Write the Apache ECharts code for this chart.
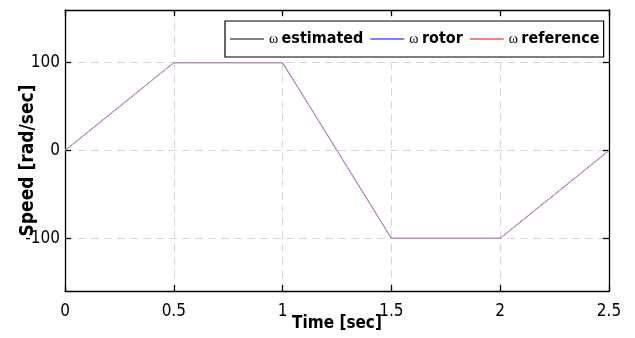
<!DOCTYPE html>
<html>
<head>
<meta charset="utf-8">
<script src="https://cdn.jsdelivr.net/npm/echarts@6/dist/echarts.min.js"></script>
<style>
  html, body { margin: 0; padding: 0; background: #fff; }
  #chart { width: 635px; height: 338px; }
</style>
</head>
<body>
<div id="chart"></div>
<script>
// Speed profile of the drive: time (s) vs. angular speed (rad/s)
const time = [0, 0.5, 1, 1.5, 2, 2.5];
const omegaEstimated = [0, 100, 100, -100, -100, 0];
const omegaRotor = [0, 100, 100, -100, -100, 0];
const omegaReference = [0, 100, 100, -100, -100, 0];

const yTicks = [-100, 0, 100];
const seriesNames = ['\u03c9 estimated', '\u03c9 rotor', '\u03c9 reference'];
const legendColors = ['#000000', '#0000ff', '#ff0000'];

const FONT = '"DejaVu Sans Condensed", "Liberation Sans", Arial, sans-serif';
const traceColor = '#bb8cc4';
const gridDash = { color: '#d6d6d6', type: [8, 5], width: 1 };

const pairs = (ys) => time.map((t, i) => [t, ys[i]]);

const chart = echarts.init(document.getElementById('chart'), null, { renderer: 'canvas' });

const baseAxisLine = { show: true, onZero: false, lineStyle: { color: '#000', width: 1.3 } };
const tickStyle = { show: true, inside: true, length: 6, lineStyle: { color: '#000', width: 1.3 } };

chart.setOption({
  animation: false,
  backgroundColor: '#fff',
  grid: { left: 65, right: 26, top: 10, bottom: 47, containLabel: false, outerBoundsMode: 'none' },
  legend: {
    left: 225,
    top: 21,
    orient: 'horizontal',
    padding: [10, 4, 10, 5],
    itemGap: 7,
    itemWidth: 34,
    itemHeight: 13,
    backgroundColor: '#fff',
    borderColor: '#000',
    borderWidth: 1.2,
    borderRadius: 0,
    selectedMode: false,
    data: seriesNames.map((n, i) => ({
      name: n,
      icon: 'path://M0,0 L34,0 L34,1 L0,1 Z',
      itemStyle: { color: legendColors[i], opacity: 1 },
      lineStyle: { color: legendColors[i], width: 2, opacity: 1 }
    })),
    formatter: (n) => '{w|\u03c9} {t|' + n.slice(2) + '}',
    textStyle: {
      rich: {
        w: { fontFamily: 'serif', fontSize: 14, color: '#000' },
        t: { fontFamily: FONT, fontWeight: 'bold', fontSize: 16, color: '#000' }
      }
    }
  },
  xAxis: [
    {
      type: 'value',
      min: 0,
      max: 2.5,
      interval: 0.5,
      name: 'Time [sec]',
      nameLocation: 'middle',
      nameGap: 24,
      nameMoveOverlap: false,
      nameTextStyle: { fontFamily: FONT, fontWeight: 'bold', fontSize: 17, color: '#000' },
      axisLine: baseAxisLine,
      axisTick: tickStyle,
      axisLabel: { show: true, fontFamily: FONT, fontSize: 17, color: '#000', margin: 12, showMinLabel: true, showMaxLabel: true },
      splitLine: { show: true, lineStyle: gridDash }
    },
    {
      type: 'value',
      position: 'top',
      min: 0,
      max: 2.5,
      interval: 0.5,
      axisLine: baseAxisLine,
      axisTick: tickStyle,
      axisLabel: { show: false },
      splitLine: { show: false }
    }
  ],
  yAxis: [
    {
      type: 'value',
      min: -160,
      max: 160,
      name: 'Speed [rad/sec]',
      nameLocation: 'middle',
      nameGap: 27,
      nameMoveOverlap: false,
      nameTextStyle: { fontFamily: FONT, fontWeight: 'bold', fontSize: 19, color: '#000', padding: [0, 20, 0, 0] },
      axisLine: baseAxisLine,
      axisTick: Object.assign({}, tickStyle, { customValues: yTicks }),
      axisLabel: { show: true, fontFamily: FONT, fontSize: 17, color: '#000', margin: 5, customValues: yTicks },
      splitLine: { show: true, lineStyle: gridDash }
    },
    {
      type: 'value',
      position: 'right',
      min: -160,
      max: 160,
      axisLine: baseAxisLine,
      axisTick: Object.assign({}, tickStyle, { customValues: yTicks }),
      axisLabel: { show: false, customValues: yTicks },
      splitLine: { show: false }
    }
  ],
  series: [omegaEstimated, omegaRotor, omegaReference].map((ys, i) => ({
    name: seriesNames[i],
    type: 'line',
    xAxisIndex: 0,
    yAxisIndex: 0,
    data: pairs(ys),
    symbol: 'none',
    color: legendColors[i],
    lineStyle: { color: traceColor, width: 1 },
    z: 3 + i
  }))
});
</script>
</body>
</html>
